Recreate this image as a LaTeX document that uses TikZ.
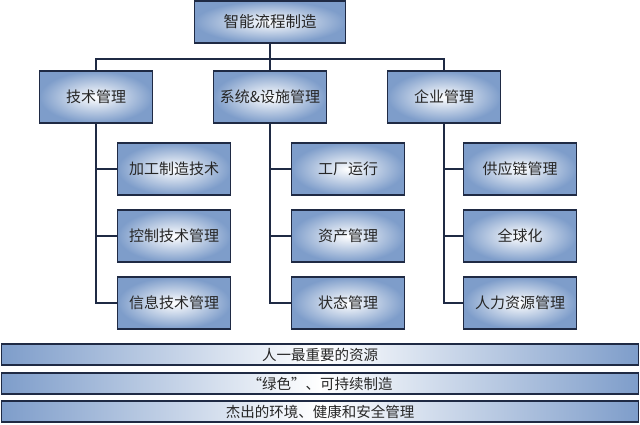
\documentclass[tikz,border=0pt]{standalone}
\usepackage{fontspec}
\setmainfont{Noto Sans CJK SC}
\usetikzlibrary{positioning}
\definecolor{edgeblue}{HTML}{7E9DCA}
\definecolor{framenavy}{HTML}{1F2A44}

\begin{document}
\begin{tikzpicture}[x=1pt, y=1pt,
  orgbox/.style={rectangle, draw=framenavy, line width=1.2pt, inner color=white,
                 outer color=edgeblue, align=center, font=\fontsize{15}{17}\selectfont,
                 text=black!85, minimum width=113pt, minimum height=52pt},
  topbox/.style={orgbox, minimum width=151pt, minimum height=42pt,
                 font=\fontsize{15.5}{17}\selectfont},
  band/.style={rectangle, draw=framenavy, line width=1.2pt, left color=edgeblue,
               right color=edgeblue, middle color=white, minimum width=637pt,
               minimum height=21pt, inner sep=0pt, text=black!85,
               font=\fontsize{14.5}{15}\selectfont},
  link/.style={draw=framenavy, line width=1.6pt},
]
  \useasboundingbox (0,0) rectangle (640,-425);

  % Top
  \node[topbox] (root) at (270,-22) {智能流程制造};

  % Level one
  \node[orgbox] (tech) at (96,-97) {技术管理};
  \node[orgbox] (sys) at (270,-97) {系统\&设施管理};
  \node[orgbox] (ent) at (444,-97) {企业管理};

  % Level two
  \node[orgbox] (t1) at (174,-169) {加工制造技术};
  \node[orgbox] (t2) at (174,-236) {控制技术管理};
  \node[orgbox] (t3) at (174,-303) {信息技术管理};
  \node[orgbox] (s1) at (348,-169) {工厂运行};
  \node[orgbox] (s2) at (348,-236) {资产管理};
  \node[orgbox] (s3) at (348,-303) {状态管理};
  \node[orgbox] (e1) at (520,-169) {供应链管理};
  \node[orgbox] (e2) at (520,-236) {全球化};
  \node[orgbox] (e3) at (520,-303) {人力资源管理};

  % Bands
  \node[band] (b1) at (320,-354.5) {人一最重要的资源};
  \node[band] (b2) at (320,-383.5) {“绿色”、可持续制造};
  \node[band] (b3) at (320,-411.5) {杰出的环境、健康和安全管理};

  % Connectors
  \coordinate (bus) at (270,-59);
  \draw[link] (root.south) -- (bus);
  \draw[link] (tech.north) |- (bus) -| (ent.north);
  \draw[link] (bus) -- (sys.north);
  \foreach \p/\c in {tech/t, sys/s, ent/e} {
    \draw[link] (\p.south) |- (\c3.west);
    \draw[link] (\p.south) |- (\c2.west);
    \draw[link] (\p.south) |- (\c1.west);
  }
\end{tikzpicture}
\end{document}
